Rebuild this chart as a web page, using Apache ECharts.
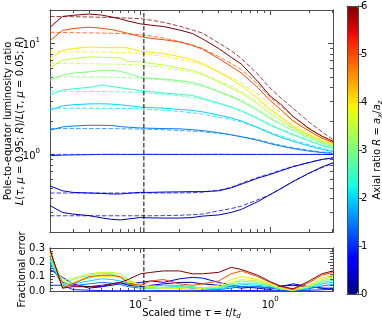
<!DOCTYPE html>
<html>
<head>
<meta charset="utf-8">
<script src="https://cdn.jsdelivr.net/npm/echarts@6/dist/echarts.min.js"></script>
<style>
  html, body { margin: 0; padding: 0; background: #fff; }
  #main { width: 382px; height: 321px; }
</style>
</head>
<body>
<div id="main"></div>
<script>
// scaled time samples
const tau = [0.02, 0.025, 0.03, 0.04, 0.05, 0.06, 0.07, 0.08, 0.1, 0.12, 0.15, 0.2, 0.25, 0.3, 0.4, 0.5, 0.6, 0.8, 1.0, 1.2, 1.5, 2.0, 2.5, 3.05];

// pole-to-equator ratio, simulation (solid)
const lumR025 = [0.346, 0.30, 0.29, 0.281, 0.268, 0.26, 0.257, 0.262, 0.27, 0.268, 0.267, 0.267, 0.27, 0.278, 0.285, 0.30, 0.32, 0.375, 0.435, 0.49, 0.57, 0.68, 0.77, 0.84];
const lumR05 = [0.52, 0.47, 0.455, 0.449, 0.445, 0.44, 0.44, 0.447, 0.455, 0.455, 0.458, 0.46, 0.462, 0.462, 0.47, 0.50, 0.54, 0.61, 0.66, 0.71, 0.775, 0.845, 0.90, 0.93];
const lumR1 = [0.975, 0.985, 0.99, 0.995, 1.0, 1.002, 1.0, 1.0, 1.0, 1.002, 1.0, 1.0, 1.0, 1.0, 1.003, 1.0, 1.0, 1.0, 1.0, 1.0, 1.0, 1.0, 1.0, 1.0];
const lumR15 = [1.65, 1.77, 1.8, 1.83, 1.83, 1.82, 1.78, 1.76, 1.73, 1.72, 1.71, 1.7, 1.67, 1.64, 1.57, 1.5, 1.44, 1.34, 1.25, 1.19, 1.13, 1.07, 1.04, 1.02];
const lumR2 = [2.5, 2.74, 2.8, 2.85, 2.86, 2.84, 2.8, 2.75, 2.67, 2.64, 2.61, 2.54, 2.5, 2.42, 2.26, 2.13, 2.0, 1.74, 1.55, 1.43, 1.31, 1.19, 1.11, 1.06];
const lumR25 = [3.43, 3.8, 3.9, 4.02, 4.22, 4.1, 3.98, 3.9, 3.75, 3.68, 3.58, 3.48, 3.4, 3.2, 2.89, 2.66, 2.45, 2.1, 1.83, 1.67, 1.5, 1.32, 1.2, 1.13];
const lumR3 = [4.67, 5.18, 5.4, 5.55, 5.72, 5.74, 5.6, 5.35, 4.95, 4.84, 4.78, 4.62, 4.45, 4.2, 3.67, 3.3, 3.0, 2.48, 2.1, 1.87, 1.64, 1.4, 1.26, 1.17];
const lumR35 = [6.1, 7.05, 7.3, 7.55, 7.5, 7.45, 7.4, 6.9, 6.8, 6.6, 6.4, 6.0, 5.7, 5.3, 4.5, 3.95, 3.55, 2.85, 2.33, 2.04, 1.74, 1.46, 1.31, 1.21];
const lumR4 = [7.3, 8.66, 9.0, 9.27, 9.2, 9.15, 9.25, 9.1, 8.5, 8.3, 8.1, 7.6, 7.1, 6.6, 5.5, 4.75, 4.15, 3.2, 2.55, 2.17, 1.8, 1.5, 1.33, 1.24];
const lumR5 = [10.6, 13.1, 13.6, 14.0, 13.7, 13.3, 12.8, 12.3, 11.5, 11.1, 10.8, 10.3, 9.6, 8.9, 7.3, 6.2, 5.4, 4.0, 3.05, 2.55, 2.0, 1.62, 1.4, 1.28];
const lumR6 = [14.0, 17.5, 17.9, 18.4, 18.0, 17.3, 16.6, 15.9, 15.0, 14.6, 14.2, 13.2, 12.3, 11.0, 9.0, 7.5, 6.5, 4.55, 3.35, 2.85, 2.2, 1.7, 1.46, 1.31];

// fitted model (dashed)
const fitR025 = [0.28, 0.28, 0.28, 0.28, 0.28, 0.28, 0.28, 0.28, 0.28, 0.28, 0.281, 0.283, 0.286, 0.29, 0.31, 0.325, 0.342, 0.39, 0.435, 0.49, 0.57, 0.675, 0.76, 0.83];
const fitR05 = [0.449, 0.449, 0.449, 0.449, 0.449, 0.449, 0.449, 0.449, 0.449, 0.449, 0.449, 0.45, 0.452, 0.457, 0.475, 0.505, 0.55, 0.62, 0.67, 0.72, 0.78, 0.85, 0.90, 0.935];
const fitR1 = [1.0, 1.0, 1.0, 1.0, 1.0, 1.0, 1.0, 1.0, 1.0, 1.0, 1.0, 1.0, 1.0, 1.0, 1.0, 1.0, 1.0, 1.0, 1.0, 1.0, 1.0, 1.0, 1.0, 1.0];
const fitR15 = [1.71, 1.71, 1.71, 1.71, 1.71, 1.71, 1.7, 1.7, 1.69, 1.68, 1.67, 1.64, 1.62, 1.6, 1.55, 1.5, 1.45, 1.36, 1.27, 1.21, 1.15, 1.09, 1.05, 1.03];
const fitR2 = [2.61, 2.61, 2.61, 2.61, 2.6, 2.6, 2.59, 2.59, 2.57, 2.54, 2.5, 2.44, 2.37, 2.31, 2.17, 2.06, 1.96, 1.76, 1.58, 1.47, 1.35, 1.22, 1.14, 1.08];
const fitR25 = [3.7, 3.7, 3.7, 3.69, 3.68, 3.67, 3.66, 3.65, 3.62, 3.56, 3.5, 3.38, 3.25, 3.15, 2.88, 2.68, 2.48, 2.14, 1.87, 1.7, 1.53, 1.34, 1.22, 1.14];
const fitR3 = [5.0, 5.0, 5.0, 4.99, 4.97, 4.95, 4.93, 4.91, 4.87, 4.78, 4.68, 4.48, 4.27, 4.11, 3.69, 3.37, 3.07, 2.57, 2.18, 1.94, 1.7, 1.45, 1.3, 1.19];
const fitR35 = [6.58, 6.58, 6.57, 6.56, 6.54, 6.52, 6.49, 6.46, 6.38, 6.23, 6.07, 5.78, 5.47, 5.23, 4.6, 4.13, 3.7, 3.0, 2.47, 2.17, 1.87, 1.54, 1.36, 1.22];
const fitR4 = [8.4, 8.4, 8.39, 8.37, 8.35, 8.31, 8.27, 8.23, 8.12, 7.9, 7.66, 7.2, 6.8, 6.45, 5.6, 4.95, 4.37, 3.45, 2.78, 2.4, 2.03, 1.64, 1.42, 1.26];
const fitR5 = [12.6, 12.55, 12.5, 12.45, 12.4, 12.33, 12.27, 12.2, 12.0, 11.65, 11.2, 10.4, 9.7, 9.0, 7.6, 6.6, 5.8, 4.3, 3.25, 2.75, 2.2, 1.72, 1.47, 1.31];
const fitR6 = [17.5, 17.45, 17.4, 17.3, 17.2, 17.1, 17.0, 16.9, 16.7, 16.2, 15.5, 14.3, 13.2, 12.4, 10.1, 8.6, 7.3, 5.3, 3.95, 3.25, 2.6, 1.95, 1.6, 1.36];

// fractional error (lower panel)
const errR025 = [0.24, 0.06, 0.04, 0.03, 0.03, 0.05, 0.06, 0.04, 0.03, 0.04, 0.05, 0.06, 0.06, 0.05, 0.04, 0.03, 0.02, 0.03, 0.02, 0.035, 0.04, 0.03, 0.02, 0.02];
const errR05 = [0.15, 0.095, 0.05, 0.02, 0.03, 0.04, 0.05, 0.05, 0.06, 0.07, 0.06, 0.085, 0.095, 0.09, 0.06, 0.04, 0.03, 0.02, 0.01, 0.03, 0.05, 0.03, 0.02, 0.01];
const errR1 = [0.04, 0.04, 0.01, 0.005, 0.003, 0.002, 0.002, 0.003, 0.002, 0.002, 0.003, 0.002, 0.002, 0.003, 0.002, 0.003, 0.004, 0.003, 0.002, 0.003, 0.004, 0.005, 0.008, 0.012];
const errR15 = [0.19, 0.04, 0.035, 0.05, 0.06, 0.055, 0.045, 0.03, 0.02, 0.02, 0.025, 0.03, 0.02, 0.015, 0.01, 0.02, 0.03, 0.03, 0.02, 0.01, 0.005, 0.015, 0.035, 0.045];
const errR2 = [0.21, 0.045, 0.05, 0.07, 0.085, 0.08, 0.07, 0.05, 0.04, 0.035, 0.04, 0.04, 0.03, 0.02, 0.015, 0.03, 0.045, 0.04, 0.03, 0.01, 0.005, 0.02, 0.05, 0.06];
const errR25 = [0.22, 0.045, 0.06, 0.09, 0.11, 0.11, 0.09, 0.07, 0.04, 0.03, 0.025, 0.03, 0.02, 0.02, 0.02, 0.04, 0.055, 0.05, 0.035, 0.015, 0.005, 0.025, 0.06, 0.075];
const errR3 = [0.24, 0.05, 0.08, 0.11, 0.125, 0.12, 0.1, 0.08, 0.02, 0.015, 0.02, 0.025, 0.03, 0.02, 0.025, 0.05, 0.07, 0.06, 0.04, 0.015, 0.005, 0.03, 0.07, 0.09];
const errR35 = [0.26, 0.07, 0.09, 0.12, 0.13, 0.13, 0.12, 0.08, 0.04, 0.03, 0.02, 0.015, 0.01, 0.02, 0.03, 0.06, 0.08, 0.07, 0.045, 0.02, 0.005, 0.035, 0.08, 0.1];
const errR4 = [0.27, 0.03, 0.06, 0.1, 0.1, 0.1, 0.1, 0.06, 0.05, 0.03, 0.02, 0.02, 0.01, 0.02, 0.04, 0.08, 0.1, 0.08, 0.05, 0.02, 0.005, 0.04, 0.09, 0.11];
const errR5 = [0.28, 0.02, 0.05, 0.1, 0.11, 0.11, 0.1, 0.05, 0.04, 0.07, 0.08, 0.05, 0.04, 0.05, 0.07, 0.12, 0.14, 0.1, 0.06, 0.03, 0.01, 0.06, 0.11, 0.13];
const errR6 = [0.29, 0.02, 0.03, 0.03, 0.04, 0.05, 0.06, 0.08, 0.12, 0.13, 0.14, 0.14, 0.12, 0.12, 0.13, 0.165, 0.15, 0.11, 0.065, 0.035, 0.015, 0.07, 0.12, 0.14];

// axial ratios, low to high (drawing order)
const axialRatio = [0.25, 0.5, 1, 1.5, 2, 2.5, 3, 3.5, 4, 5, 6];
const lumSets = [lumR025, lumR05, lumR1, lumR15, lumR2, lumR25, lumR3, lumR35, lumR4, lumR5, lumR6];
const fitSets = [fitR025, fitR05, fitR1, fitR15, fitR2, fitR25, fitR3, fitR35, fitR4, fitR5, fitR6];
const errSets = [errR025, errR05, errR1, errR15, errR2, errR25, errR3, errR35, errR4, errR5, errR6];

// vertical marker
const cutTau = 0.106;

// tick positions
const xMajor = [0.1, 1];
const xMinor = [0.02, 0.03, 0.04, 0.05, 0.06, 0.07, 0.08, 0.09, 0.2, 0.3, 0.4, 0.5, 0.6, 0.7, 0.8, 0.9, 2, 3];
const yMajor = [1, 10];
const yMinor = [0.2, 0.3, 0.4, 0.5, 0.6, 0.7, 0.8, 0.9, 2, 3, 4, 5, 6, 7, 8, 9];
const errMajor = [0, 0.1, 0.2, 0.3];
const errMinor = [0.02, 0.04, 0.06, 0.08, 0.12, 0.14, 0.16, 0.18, 0.22, 0.24, 0.26, 0.28];

const FONT = 'DejaVu Sans';
const AX = '#4d4d4d';
const lg = Math.log10;
const xMin = lg(0.02), xMax = lg(3.05);
const yMin = lg(0.2), yMax = lg(20);

// matplotlib jet
function jet(t) {
    const seg = (pts) => {
        for (let i = 1; i < pts.length; i++) {
            if (t <= pts[i][0]) {
                const [x0, y0] = pts[i - 1], [x1, y1] = pts[i];
                return y0 + (y1 - y0) * (t - x0) / (x1 - x0);
            }
        }
        return pts[pts.length - 1][1];
    };
    const r = seg([[0, 0], [0.35, 0], [0.66, 1], [0.89, 1], [1, 0.5]]);
    const g = seg([[0, 0], [0.125, 0], [0.375, 1], [0.64, 1], [0.91, 0], [1, 0]]);
    const b = seg([[0, 0.5], [0.11, 1], [0.34, 1], [0.65, 0], [1, 0]]);
    return 'rgb(' + Math.round(r * 255) + ',' + Math.round(g * 255) + ',' + Math.round(b * 255) + ')';
}
const jetStops = [];
for (let i = 0; i <= 40; i++) jetStops.push(jet(i / 40));

const supRich = {
    b: { fontFamily: FONT, fontSize: 10, color: '#000', lineHeight: 14, verticalAlign: 'bottom' },
    sup: { fontFamily: FONT, fontSize: 7, color: '#000', lineHeight: 8, verticalAlign: 'top' }
};
const powLabel = v => '{b|10}{sup|' + String(Math.round(v)).replace('-', '\u2212') + '}';

// one axis side; major and minor ticks live in twin grids
function tickAxis(gridIndex, position, min, max, ticks, len, label) {
    return {
        type: 'value', gridIndex: gridIndex, position: position, min: min, max: max,
        axisLine: { show: true, onZero: false, lineStyle: { color: AX, width: 1 } },
        axisTick: { show: true, inside: true, length: len, customValues: ticks, lineStyle: { color: AX, width: 1 } },
        axisLabel: label ? Object.assign({ customValues: ticks }, label) : { show: false },
        splitLine: { show: false }
    };
}
function frameAxis(gridIndex, position, min, max) {
    return {
        type: 'value', gridIndex: gridIndex, position: position, min: min, max: max, z: 10,
        axisLine: { show: true, onZero: false, lineStyle: { color: AX, width: 1 } },
        axisTick: { show: false }, axisLabel: { show: false }, splitLine: { show: false }
    };
}

const xMajL = xMajor.map(lg), xMinL = xMinor.map(lg);
const yMajL = yMajor.map(lg), yMinL = yMinor.map(lg);

var xAxes = [
    tickAxis(0, 'bottom', xMin, xMax, xMajL, 5),
    tickAxis(0, 'top', xMin, xMax, xMajL, 5),
    tickAxis(1, 'bottom', xMin, xMax, xMinL, 3),
    tickAxis(1, 'top', xMin, xMax, xMinL, 3),
    Object.assign(tickAxis(2, 'bottom', xMin, xMax, xMajL, 5, {
        margin: 5, formatter: powLabel, rich: supRich
    }), {
        name: 'Scaled time {i|\u03c4} = {i|t}/{i|t}{sub|d}',
        nameLocation: 'middle', nameGap: 16, nameMoveOverlap: false,
        nameTextStyle: {
            fontFamily: FONT, fontSize: 10, color: '#000', lineHeight: 13,
            rich: {
                i: { fontFamily: FONT, fontSize: 10, fontStyle: 'italic', color: '#000', lineHeight: 13 },
                sub: { fontFamily: FONT, fontSize: 7, fontStyle: 'italic', color: '#000', lineHeight: 9, verticalAlign: 'bottom' }
            }
        }
    }),
    tickAxis(2, 'top', xMin, xMax, xMajL, 5),
    tickAxis(3, 'bottom', xMin, xMax, xMinL, 3),
    tickAxis(3, 'top', xMin, xMax, xMinL, 3),
    frameAxis(4, 'bottom', 0, 1),
    frameAxis(4, 'top', 0, 1)
];

var yAxes = [
    Object.assign(tickAxis(0, 'left', yMin, yMax, yMajL, 5, {
        margin: 10, formatter: powLabel, rich: supRich
    }), {
        name: 'Pole-to-equator luminosity ratio\n{i|L}({i|\u03c4}, {i|\u03bc} = 0.95; {i|R})/{i|L}({i|\u03c4}, {i|\u03bc} = 0.05; {i|R})',
        nameLocation: 'middle', nameGap: 24, nameRotate: 90, nameMoveOverlap: false,
        nameTextStyle: {
            fontFamily: FONT, fontSize: 10, color: '#000', lineHeight: 12,
            rich: { i: { fontFamily: FONT, fontSize: 10, fontStyle: 'italic', color: '#000', lineHeight: 12 } }
        }
    }),
    tickAxis(0, 'right', yMin, yMax, yMajL, 5),
    tickAxis(1, 'left', yMin, yMax, yMinL, 3),
    tickAxis(1, 'right', yMin, yMax, yMinL, 3),
    Object.assign(tickAxis(2, 'left', 0, 0.3, errMajor, 5, {
        margin: 5, fontFamily: FONT, fontSize: 10, color: '#000', formatter: v => v.toFixed(1)
    }), {
        name: 'Fractional error', nameLocation: 'middle', nameGap: 23, nameRotate: 90, nameMoveOverlap: false,
        nameTextStyle: { fontFamily: FONT, fontSize: 10, color: '#000' }
    }),
    tickAxis(2, 'right', 0, 0.3, errMajor, 5),
    tickAxis(3, 'left', 0, 0.3, errMinor, 3),
    tickAxis(3, 'right', 0, 0.3, errMinor, 3),
    // colorbar axis
    { type: 'value', gridIndex: 4, position: 'right', min: 0, max: 6, interval: 1, z: 10,
      axisLine: { show: true, onZero: false, lineStyle: { color: AX, width: 1 } },
      axisTick: { show: true, inside: false, length: 4, lineStyle: { color: AX, width: 1 } },
      axisLabel: { margin: 3, fontFamily: FONT, fontSize: 10, color: '#000' },
      splitLine: { show: false },
      name: 'Axial ratio {i|R} = {i|a}{sub|x}/{i|a}{sub|z}',
      nameLocation: 'middle', nameGap: 13, nameRotate: 90, nameMoveOverlap: false,
      nameTextStyle: {
          fontFamily: FONT, fontSize: 10, color: '#000', lineHeight: 13,
          rich: {
              i: { fontFamily: FONT, fontSize: 10, fontStyle: 'italic', color: '#000', lineHeight: 13 },
              sub: { fontFamily: FONT, fontSize: 7, fontStyle: 'italic', color: '#000', lineHeight: 9, verticalAlign: 'bottom' }
          }
      } },
    frameAxis(4, 'left', 0, 6)
];

// build series
var series = [];
axialRatio.forEach(function (R, k) {
    const color = jet(R / 6);
    series.push({
        name: 'sim R=' + R, type: 'line', xAxisIndex: 0, yAxisIndex: 0,
        symbol: 'none', lineStyle: { color: color, width: 1 },
        data: tau.map((t, i) => [lg(t), lg(lumSets[k][i])])
    });
    series.push({
        name: 'fit R=' + R, type: 'line', xAxisIndex: 0, yAxisIndex: 0,
        symbol: 'none', lineStyle: { color: color, width: 1, type: [4.5, 2], opacity: 0.75 },
        data: tau.map((t, i) => [lg(t), lg(fitSets[k][i])])
    });
});
axialRatio.forEach(function (R, k) {
    series.push({
        name: 'err R=' + R, type: 'line', xAxisIndex: 4, yAxisIndex: 4,
        symbol: 'none', lineStyle: { color: jet(R / 6), width: 1 },
        data: tau.map((t, i) => [lg(t), errSets[k][i]])
    });
});
// vertical dashed marker in both panels
series.push({
    type: 'line', xAxisIndex: 0, yAxisIndex: 0, symbol: 'none', z: 5,
    lineStyle: { color: '#000', width: 1, type: [4.5, 2] },
    data: [[lg(cutTau), yMin], [lg(cutTau), yMax]]
});
series.push({
    type: 'line', xAxisIndex: 4, yAxisIndex: 4, symbol: 'none', z: 5,
    lineStyle: { color: '#000', width: 1, type: [4.5, 2] },
    data: [[lg(cutTau), 0], [lg(cutTau), 0.3]]
});
// holder for the colorbar
series.push({ type: 'scatter', xAxisIndex: 8, yAxisIndex: 8, data: [] });
const cbIndex = series.length - 1;

var myChart = echarts.init(document.getElementById('main'), null, { renderer: 'canvas' });

// fixed rects, no auto shrinking for labels
const gridBase = { containLabel: false, outerBoundsMode: 'none' };

var option = {
    animation: false,
    backgroundColor: '#fff',
    textStyle: { fontFamily: FONT },
    grid: [
        Object.assign({ left: 50, top: 10, width: 283, height: 222 }, gridBase),
        Object.assign({ left: 50, top: 10, width: 283, height: 222 }, gridBase),
        Object.assign({ left: 50, top: 248, width: 283, height: 43 }, gridBase),
        Object.assign({ left: 50, top: 248, width: 283, height: 43 }, gridBase),
        Object.assign({ left: 347, top: 6, width: 11, height: 288 }, gridBase)
    ],
    xAxis: xAxes,
    yAxis: yAxes,
    visualMap: {
        type: 'continuous', min: 0, max: 6, seriesIndex: cbIndex,
        left: 347, top: 6, itemWidth: 11, itemHeight: 288, padding: 0,
        calculable: false, showLabel: false, text: null, hoverLink: false, z: 2,
        inRange: { color: jetStops }
    },
    series: series
};

myChart.setOption(option);
</script>
</body>
</html>
